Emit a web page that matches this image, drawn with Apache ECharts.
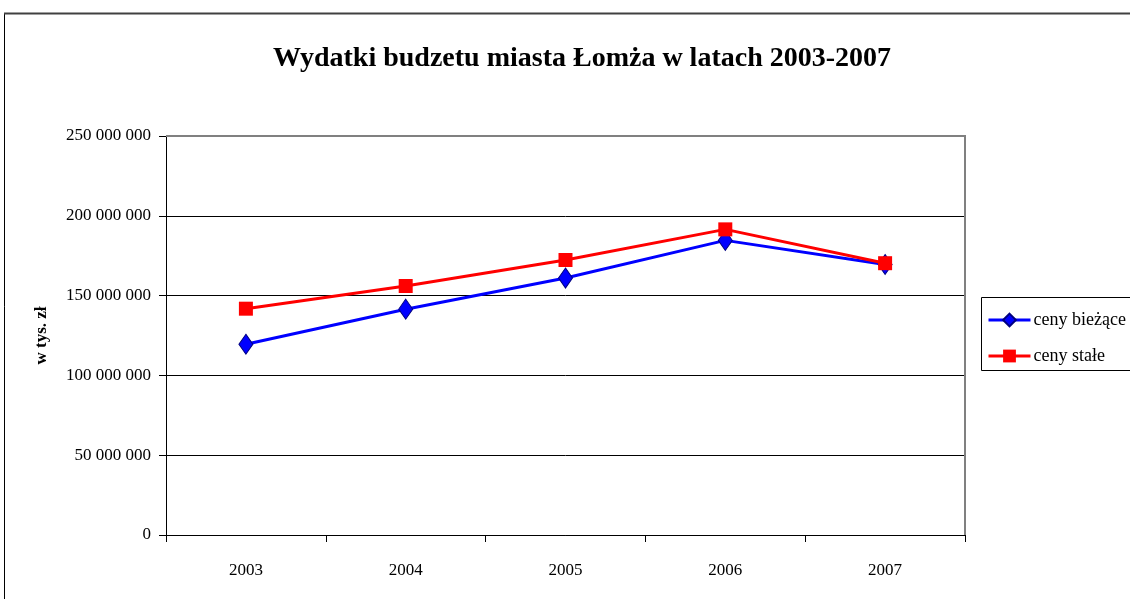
<!DOCTYPE html>
<html><head><meta charset="utf-8">
<script src="https://cdn.jsdelivr.net/npm/echarts@6/dist/echarts.min.js"></script>
<style>html,body{margin:0;padding:0;background:#fff}#c{width:1130px;height:599px}</style>
</head><body><div id="c"></div>
<script>
const categories = ['2003','2004','2005','2006','2007'];
const cenyBiezace = [119500000, 141500000, 161000000, 184600000, 169500000];
const cenyStale = [141800000, 156000000, 172300000, 191500000, 170300000];
const yTicks = [0, 50000000, 100000000, 150000000, 200000000, 250000000];
const titleText = 'Wydatki budzetu miasta Łomża w latach 2003-2007';
const yName = 'w tys. zł';

function fmt(v){return String(v).replace(/\B(?=(\d{3})+(?!\d))/g,' ');}
const serif = '"Liberation Serif","DejaVu Serif",serif';
const chart = echarts.init(document.getElementById('c'));
chart.setOption({
  animation:false,
  backgroundColor:'#fff',
  title:{text:titleText,left:577,top:40,textAlign:'center',
    textStyle:{fontFamily:serif,fontWeight:'bold',fontSize:28,color:'#000'}},
  grid:{left:166,top:136,width:799,height:399,containLabel:false},
  legend:{show:true,orient:'vertical',left:982,top:306,itemWidth:42,itemHeight:16,itemGap:18,
    data:['ceny bieżące','ceny stałe'],
    lineStyle:{width:3},
    textStyle:{fontFamily:serif,fontSize:18,color:'#000',padding:[0,0,0,-2]}},
  xAxis:{type:'category',data:categories,boundaryGap:true,
    axisLine:{lineStyle:{color:'#000',width:1}},
    axisTick:{show:true,alignWithLabel:false,length:7,lineStyle:{color:'#000'}},
    axisLabel:{fontFamily:serif,fontSize:17,color:'#000',margin:27}},
  yAxis:{type:'value',min:0,max:250000000,interval:50000000,
    name:yName,nameLocation:'middle',nameGap:116,nameRotate:90,
    nameTextStyle:{fontFamily:serif,fontWeight:'bold',fontSize:17,color:'#000'},
    axisLine:{show:true,lineStyle:{color:'#000'}},
    axisTick:{show:true,length:7,lineStyle:{color:'#000'}},
    axisLabel:{fontFamily:serif,fontSize:17,color:'#000',margin:15,formatter:v=>fmt(v)},
    splitLine:{lineStyle:{color:'#000',width:1}}},
  graphic:[
    {type:'rect',shape:{x:4.5,y:13.5,width:1140,height:600},style:{fill:'none',stroke:'#000',lineWidth:1},z:-1},
    {type:'line',shape:{x1:4,y1:13.5,x2:1130,y2:13.5},style:{stroke:'#404040',lineWidth:2}},
    {type:'polyline',shape:{points:[[166,136],[965,136],[965,535]]},style:{stroke:'#808080',lineWidth:2,fill:'none'},z:5},
    {type:'rect',shape:{x:981.5,y:297.5,width:200,height:73},style:{fill:'none',stroke:'#000',lineWidth:1},z:0}
  ],
  series:[
    {name:'ceny bieżące',type:'line',data:cenyBiezace,symbol:'diamond',symbolSize:[14,20],
      lineStyle:{color:'#0000ff',width:3},itemStyle:{color:'#0000ff',borderColor:'#000080',borderWidth:1},z:3},
    {name:'ceny stałe',type:'line',data:cenyStale,symbol:'rect',symbolSize:14,
      lineStyle:{color:'#ff0000',width:3},itemStyle:{color:'#ff0000'},z:4}
  ]
});
</script></body></html>
